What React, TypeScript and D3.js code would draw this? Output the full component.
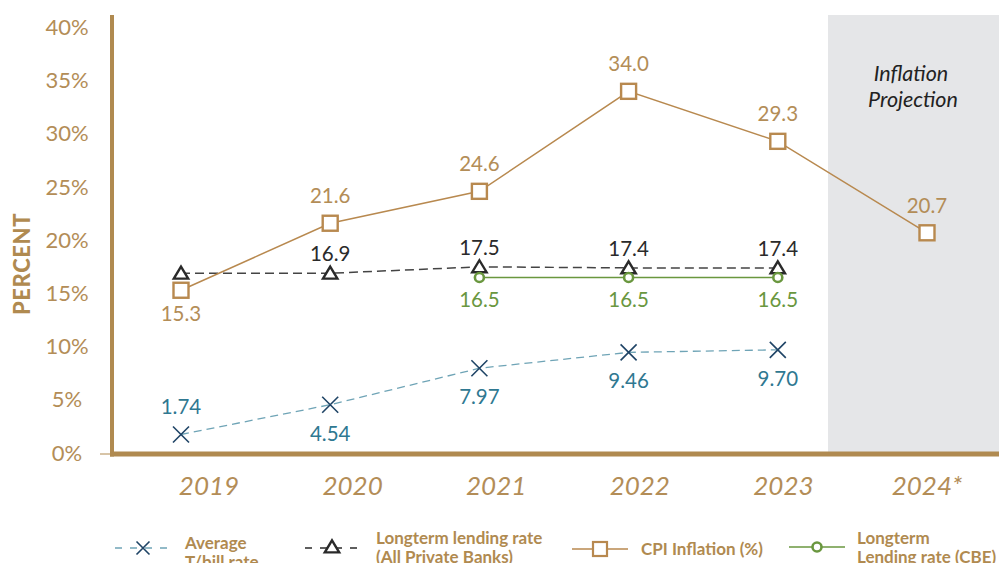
import React from 'react';
import * as d3 from 'd3';

const years = ['2019', '2020', '2021', '2022', '2023', '2024*'];
const tbill: (number | null)[] = [1.74, 4.54, 7.97, 9.46, 9.7, null];
const privateBanks: (number | null)[] = [16.9, 16.9, 17.5, 17.4, 17.4, null];
const cpi: (number | null)[] = [15.3, 21.6, 24.6, 34.0, 29.3, 20.7];
const cbe: (number | null)[] = [null, null, 16.5, 16.5, 16.5, null];
const yTicks = [0, 5, 10, 15, 20, 25, 30, 35, 40];

const tbillLabelSide = ['above', 'below', 'below', 'below', 'below', 'none'];
const privateLabelSide = ['none', 'above', 'above', 'above', 'above', 'none'];
const cpiLabelSide = ['below', 'above', 'above', 'above', 'above', 'above'];
const cbeLabelSide = ['none', 'none', 'below', 'below', 'below', 'none'];

const W = 999;
const H = 563;
const GOLD = '#B08A50';
const GOLD_TEXT = '#B38D57';
const CPI_LINE = '#B8894F';
const GREEN = '#6A973F';
const TEAL_TEXT = '#2F7891';
const NAVY = '#1F4466';
const TEAL_LINE = '#6FA4B6';
const DARK = '#2A2A2A';
const FONT = 'Lato, "Noto Sans", sans-serif';

export default function App() {
  const x = d3.scalePoint<string>().domain(years).range([181, 927]);
  const xLab = d3.scalePoint<string>().domain(years).range([209, 927]);
  const y = d3.scaleLinear().domain([0, 40]).range([453, 27.5]);

  const pts = (vals: (number | null)[]) =>
    vals.map((v, i) => ({ v, i, px: x(years[i]) as number, py: v == null ? 0 : y(v) })).filter((d) => d.v != null);

  const lineGen = d3
    .line<{ px: number; py: number }>()
    .x((d) => d.px)
    .y((d) => d.py);

  const tb = pts(tbill);
  const pb = pts(privateBanks);
  const cp = pts(cpi);
  const cb = pts(cbe);

  const fmt1 = d3.format('.1f');
  const fmt2 = d3.format('.2f');

  const triPath = (cx: number, cy: number, s: number) =>
    `M${cx},${cy - s * 0.55}L${cx + s * 0.6},${cy + s * 0.45}L${cx - s * 0.6},${cy + s * 0.45}Z`;
  const xPath = (cx: number, cy: number, s: number) =>
    `M${cx - s},${cy - s}L${cx + s},${cy + s}M${cx - s},${cy + s}L${cx + s},${cy - s}`;

  const x0 = 112;
  const axisTop = 15;
  const axisY = y(0) + 1;

  const legendY = 548;
  const LFS = 17;
  const VFS = 20.5;

  return (
    <svg
      width={W}
      height={H}
      viewBox={`0 0 ${W} ${H}`}
      style={{ position: 'absolute', left: 0, top: 0, background: '#fff' }}
      fontFamily={FONT}
    >
      {/* projection band */}
      <rect x={x('2024*')! - 99} y={axisTop} width={W - (x('2024*')! - 99)} height={axisY - axisTop - 2} fill="#E5E6E8" />
      <text x={911} y={81} textAnchor="middle" fontSize={21.5} fontStyle="italic" fill="#222">
        Inflation
      </text>
      <text x={913} y={107} textAnchor="middle" fontSize={21.5} fontStyle="italic" fill="#222">
        Projection
      </text>

      {/* y tick labels */}
      {yTicks.map((t) => (
        <text key={t} x={67} y={y(t) + 7.5} textAnchor="middle" fontSize={22} fontWeight={400} fill={GOLD_TEXT}>
          {t}%
        </text>
      ))}
      <text
        transform={`translate(30,${264}) rotate(-90)`}
        textAnchor="middle"
        fontSize={22}
        fontWeight={900}
        fill={GOLD}
        letterSpacing={0.6}
      >
        PERCENT
      </text>

      {/* axes */}
      <line x1={100} x2={x0} y1={axisY} y2={axisY} stroke={GOLD} strokeWidth={1} />
      <line x1={x0 - 2} x2={W} y1={axisY} y2={axisY} stroke={GOLD} strokeWidth={5} />
      <line x1={x0} x2={x0} y1={axisTop} y2={axisY + 2.5} stroke={GOLD} strokeWidth={4} />

      {/* x labels */}
      {years.map((yr) => (
        <text key={yr} x={xLab(yr)} y={495} textAnchor="middle" fontSize={26} fontStyle="italic" fontWeight={400} fill={GOLD_TEXT}>
          {yr}
        </text>
      ))}

      {/* lines */}
      <path d={lineGen(tb)!} fill="none" stroke={TEAL_LINE} strokeWidth={1.3} strokeDasharray="8 5" />
      <path d={lineGen(pb)!} fill="none" stroke="#444" strokeWidth={1.5} strokeDasharray="9 5" />
      <path d={lineGen(cb)!} fill="none" stroke={GREEN} strokeWidth={1.6} />
      <path d={lineGen(cp)!} fill="none" stroke={CPI_LINE} strokeWidth={1.5} />

      {/* markers */}
      {tb.map((d) => (
        <path key={'tb' + d.i} d={xPath(d.px, d.py, 8)} stroke={NAVY} strokeWidth={1.6} fill="none" />
      ))}
      {pb.map((d) => (
        <path key={'pb' + d.i} d={triPath(d.px, d.py, 12)} stroke={DARK} strokeWidth={2.4} fill="#fff" strokeLinejoin="miter" />
      ))}
      {cb.map((d) => (
        <circle key={'cb' + d.i} cx={d.px} cy={d.py} r={4.5} stroke={GREEN} strokeWidth={2.6} fill="#fff" />
      ))}
      {cp.map((d) => (
        <rect key={'cp' + d.i} x={d.px - 7.5} y={d.py - 7.5} width={15} height={15} stroke={CPI_LINE} strokeWidth={2.4} fill="#fff" />
      ))}

      {/* value labels */}
      {tb.map((d) =>
        tbillLabelSide[d.i] === 'none' ? null : (
          <text
            key={'tbl' + d.i}
            x={d.px}
            y={tbillLabelSide[d.i] === 'above' ? d.py - 20 : d.py + 36}
            textAnchor="middle"
            fontSize={VFS}
            fontWeight={400}
            fill={TEAL_TEXT}
          >
            {fmt2(d.v as number)}
          </text>
        )
      )}
      {pb.map((d) =>
        privateLabelSide[d.i] === 'none' ? null : (
          <text key={'pbl' + d.i} x={d.px} y={d.py - 12} textAnchor="middle" fontSize={VFS} fontWeight={400} fill={DARK}>
            {fmt1(d.v as number)}
          </text>
        )
      )}
      {cb.map((d) =>
        cbeLabelSide[d.i] === 'none' ? null : (
          <text key={'cbl' + d.i} x={d.px} y={d.py + 30} textAnchor="middle" fontSize={VFS} fontWeight={400} fill={GREEN}>
            {fmt1(d.v as number)}
          </text>
        )
      )}
      {cp.map((d) => (
        <text
          key={'cpl' + d.i}
          x={d.px}
          y={cpiLabelSide[d.i] === 'above' ? d.py - 20 : d.py + 31}
          textAnchor="middle"
          fontSize={VFS}
          fontWeight={400}
          fill={GOLD_TEXT}
        >
          {fmt1(d.v as number)}
        </text>
      ))}

      {/* legend */}
      <g>
        <line x1={115} x2={171} y1={legendY} y2={legendY} stroke={TEAL_LINE} strokeWidth={1.3} strokeDasharray="7 8" />
        <path d={xPath(143, legendY, 6.5)} stroke={NAVY} strokeWidth={1.6} fill="none" />
        <text x={185} y={549} fontSize={LFS} fontWeight={700} fill={GOLD}>
          <tspan x={185}>Average</tspan>
          <tspan x={185} dy={19}>T/bill rate</tspan>
        </text>

        <line x1={305} x2={359} y1={legendY} y2={legendY} stroke={DARK} strokeWidth={1.5} strokeDasharray="7 8" />
        <path d={triPath(332, legendY - 1, 12)} stroke={DARK} strokeWidth={2.4} fill="#fff" />
        <text x={376} y={544} fontSize={LFS} fontWeight={700} fill={GOLD}>
          <tspan x={376}>Longterm lending rate</tspan>
          <tspan x={376} dy={19}>(All Private Banks)</tspan>
        </text>

        <line x1={572} x2={628} y1={legendY + 1} y2={legendY + 1} stroke={CPI_LINE} strokeWidth={1.5} />
        <rect x={593} y={legendY - 6} width={14} height={14} stroke={CPI_LINE} strokeWidth={2.2} fill="#fff" />
        <text x={641} y={555} fontSize={LFS} fontWeight={700} fill={GOLD}>
          CPI Inflation (%)
        </text>

        <line x1={789} x2={845} y1={legendY - 1} y2={legendY - 1} stroke={GREEN} strokeWidth={1.6} />
        <circle cx={817} cy={legendY - 1} r={4.5} stroke={GREEN} strokeWidth={2.6} fill="#fff" />
        <text x={857} y={544} fontSize={LFS} fontWeight={700} fill={GOLD}>
          <tspan x={857}>Longterm</tspan>
          <tspan x={857} dy={19}>Lending rate (CBE)</tspan>
        </text>
      </g>
    </svg>
  );
}
